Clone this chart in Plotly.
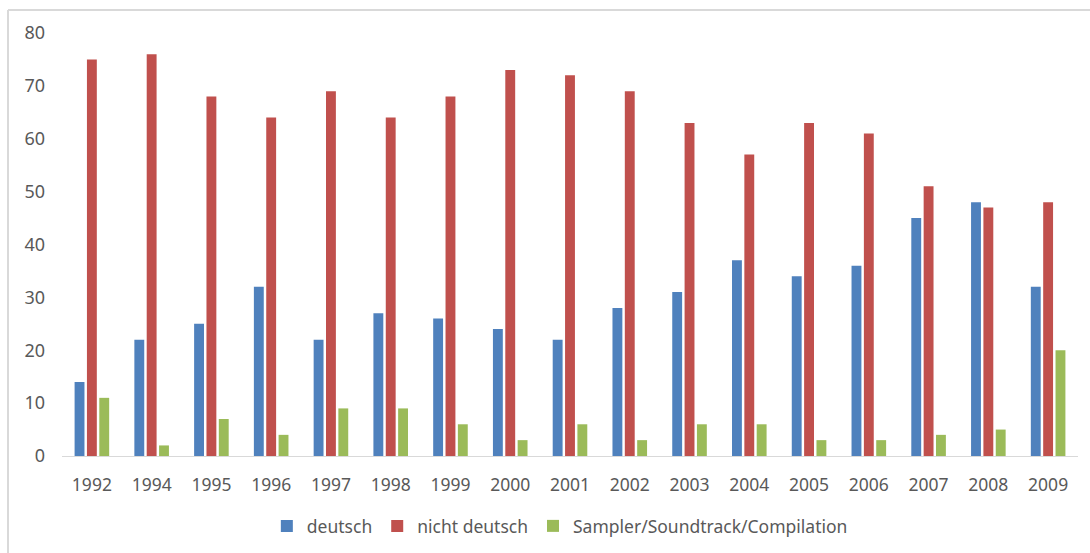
import plotly.graph_objects as go

years = ["1992", "1994", "1995", "1996", "1997", "1998", "1999", "2000", "2001",
         "2002", "2003", "2004", "2005", "2006", "2007", "2008", "2009"]
deutsch = [14, 22, 25, 32, 22, 27, 26, 24, 22, 28, 31, 37, 34, 36, 45, 48, 32]
nicht_deutsch = [75, 76, 68, 64, 69, 64, 68, 73, 72, 69, 63, 57, 63, 61, 51, 47, 48]
sampler = [11, 2, 7, 4, 9, 9, 6, 3, 6, 3, 6, 6, 3, 3, 4, 5, 20]
y_ticks = [0, 10, 20, 30, 40, 50, 60, 70, 80]

series = [
    ("deutsch", deutsch, "#4F81BD"),
    ("nicht deutsch", nicht_deutsch, "#C0504D"),
    ("Sampler/Soundtrack/Compilation", sampler, "#9BBB59"),
]

W, H = 1090, 553
ML, MR, MT, MB = 62, 12, 33, 97

fig = go.Figure()
for name, vals, color in series:
    fig.add_trace(go.Bar(
        x=years, y=vals, name=name,
        marker=dict(color=color, line=dict(width=0)),
    ))

family = "Noto Sans, Open Sans, sans-serif"
xfont = dict(family=family, size=17.5, color="#595959")
yfont = dict(family=family, size=18, color="#595959")

# outer frame line (left and top edges of the chart area)
pw, ph = W - ML - MR, H - MT - MB
x0 = (8 - ML) / pw
x1 = (W - ML) / pw
y_top = 1 + (MT - 10) / ph
y_bot = -(MB) / ph
fig.add_shape(type="line", xref="paper", yref="paper",
              x0=x0, x1=x0, y0=y_bot, y1=y_top,
              line=dict(color="#D9D9D9", width=2))
fig.add_shape(type="line", xref="paper", yref="paper",
              x0=x0, x1=x1, y0=y_top, y1=y_top,
              line=dict(color="#D9D9D9", width=2))

fig.update_layout(
    width=W, height=H,
    margin=dict(l=ML, r=MR, t=MT, b=MB, autoexpand=False),
    paper_bgcolor="white", plot_bgcolor="white",
    barmode="group", bargap=0.38, bargroupgap=0.2,
    font=xfont,
    showlegend=True,
    legend=dict(orientation="h", x=0.49, xanchor="center",
                y=-(526 - (H - MB)) / ph, yanchor="middle",
                font=dict(family=family, size=17.5, color="#595959"),
                itemwidth=30, traceorder="normal"),
    xaxis=dict(showline=True, linecolor="#D9D9D9", linewidth=1, ticks="",
               showgrid=False, tickfont=xfont, ticklabelstandoff=13,
               automargin=False),
    yaxis=dict(range=[0, 80], tickvals=y_ticks, showgrid=False, zeroline=False,
               showline=False, ticks="", tickfont=yfont, ticklabelstandoff=16,
               automargin=False),
)

fig.write_html("out.html")
